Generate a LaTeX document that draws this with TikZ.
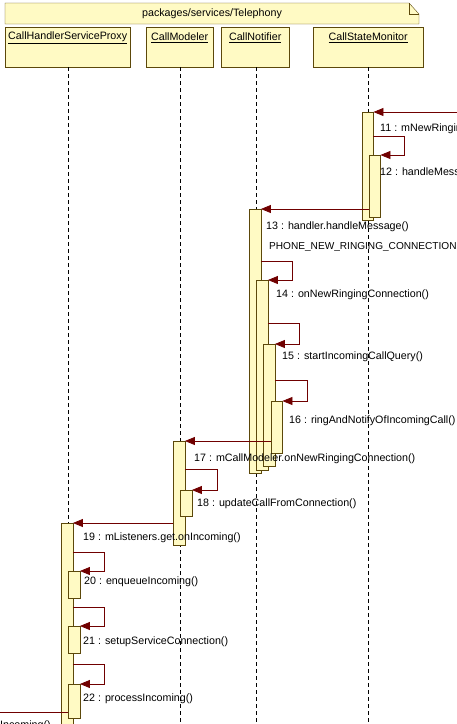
\documentclass[tikz,border=0pt]{standalone}
\usepackage{fontspec}
\setmainfont{Liberation Sans}
\usetikzlibrary{arrows.meta,positioning}
\definecolor{umlfill}{RGB}{255,250,196}
\definecolor{umlline}{RGB}{92,72,10}
\definecolor{msgred}{RGB}{112,0,0}

\begin{document}
\begin{tikzpicture}[x=1pt, y=-1pt,
  head/.style={draw=umlline, fill=umlfill, anchor=north west, inner sep=0pt,
               minimum height=40pt, font=\fontsize{10.7}{12}\selectfont},
  act/.style={draw=umlline, fill=umlfill, anchor=north, inner sep=0pt,
              minimum width=11.5pt},
  life/.style={dash pattern=on 4pt off 3pt, line width=0.7pt},
  msg/.style={draw=msgred, line width=0.8pt,
              -{Triangle[length=10pt, width=8pt]}},
  lab/.style={anchor=west, inner sep=0pt, font=\fontsize{10.7}{12}\selectfont}
]
  \useasboundingbox (0,0) rectangle (457,724);
  \clip (0,0) rectangle (457,724);

  % package frame
  \draw[umlline, fill=umlfill] (5,3) -- (409,3) -- (419,14) -- (419,24)
    -- (5,24) -- cycle;
  \draw[umlline] (409,3) -- (409,14) -- (419,14);
  \node[lab, anchor=center] (pkg) at (212,14) {packages/services/Telephony};

  % lifeline heads
  \node[head, minimum width=125pt] (proxy) at (5,27) {};
  \node[head, minimum width=67pt] (modeler) at (146,27) {};
  \node[head, minimum width=68pt] (notifier) at (221,27) {};
  \node[head, minimum width=110pt] (monitor) at (313,27) {};
  \foreach \h/\t in {proxy/CallHandlerServiceProxy, modeler/CallModeler,
                     notifier/CallNotifier, monitor/CallStateMonitor}
    \node[lab, anchor=center] at ([yshift=-11pt]\h.north) {\underline{\t}};

  % lifelines
  \draw[life] (68,67) -- (68,730);
  \draw[life] (180,67) -- (180,730);
  \draw[life] (256,67) -- (256,730);
  \draw[life] (368,67) -- (368,730);

  % activations
  \node[act, minimum height=108pt] (a1) at (367.5,112) {};
  \node[act, minimum height=62pt] (a2) at (374.5,155) {};
  \node[act, minimum height=264pt] (n1) at (255,209) {};
  \node[act, minimum height=190pt] (n2) at (262,280) {};
  \node[act, minimum height=122pt] (n3) at (269,344) {};
  \node[act, minimum height=52pt] (n4) at (276.5,401) {};
  \node[act, minimum height=104pt] (m1) at (179,441) {};
  \node[act, minimum height=26pt] (m2) at (186,490) {};
  \node[act, minimum height=210pt] (p1) at (67,523) {};
  \node[act, minimum height=27pt] (p2) at (74,571) {};
  \node[act, minimum height=27pt] (p3) at (74,626) {};
  \node[act, minimum height=34pt] (p4) at (74,684) {};

  \coordinate (in11) at (460,112);
  \coordinate (out23) at (-5,712);

  % messages
  \draw[msg] (in11) -- (a1.north east);
  \draw[msg] ([yshift=19pt]a2.north -| a1.east) -- ++(31,0) |- (a2.north east);
  \draw[msg] (a2.west |- n1.north) -- (n1.north east);
  \draw[msg] ([yshift=19pt]n2.north -| n1.east) -- ++(31,0) |- (n2.north east);
  \draw[msg] ([yshift=21pt]n3.north -| n2.east) -- ++(31,0) |- (n3.north east);
  \draw[msg] ([yshift=21pt]n4.north -| n3.east) -- ++(32,0) |- (n4.north east);
  \draw[msg] (n4.west |- m1.north) -- (m1.north east);
  \draw[msg] ([yshift=21pt]m2.north -| m1.east) -- ++(32,0) |- (m2.north east);
  \draw[msg] (m1.west |- p1.north) -- (p1.north east);
  \draw[msg] ([yshift=19pt]p2.north -| p1.east) -- ++(31,0) |- (p2.north east);
  \draw[msg] ([yshift=19pt]p3.north -| p1.east) -- ++(31,0) |- (p3.north east);
  \draw[msg] ([yshift=20pt]p4.north -| p1.east) -- ++(31,0) |- (p4.north east);
  \draw[msgred, line width=0.8pt] (p4.west |- out23) -- (out23);

  % labels
  \node[lab] (l11) at (380,129) {11 : mNewRingin};
  \node[lab] (l12) at (380,172) {12 : handleMess};
  \node[lab, font=\fontsize{10.1}{12}\selectfont] (l13b) at (269,247)
    {PHONE\_NEW\_RINGING\_CONNECTION};
  \node[lab] (l13) at (266,227) {13 : handler.handleMessage()};
  \node[lab] (l14) at (276,295) {14 : onNewRingingConnection()};
  \node[lab] (l15) at (282,357) {15 : startIncomingCallQuery()};
  \node[lab] (l16) at (289,421) {16 : ringAndNotifyOfIncomingCall()};
  \node[lab] (l17) at (194,459) {17 : mCallModeler.onNewRingingConnection()};
  \node[lab] (l18) at (197,504) {18 : updateCallFromConnection()};
  \node[lab] (l19) at (83,538) {19 : mListeners.get.onIncoming()};
  \node[lab] (l20) at (84,582) {20 : enqueueIncoming()};
  \node[lab] (l21) at (83,642) {21 : setupServiceConnection()};
  \node[lab] (l22) at (83,699) {22 : processIncoming()};
  \node[lab] (l23) at (0,726) {Incoming()};
\end{tikzpicture}
\end{document}
